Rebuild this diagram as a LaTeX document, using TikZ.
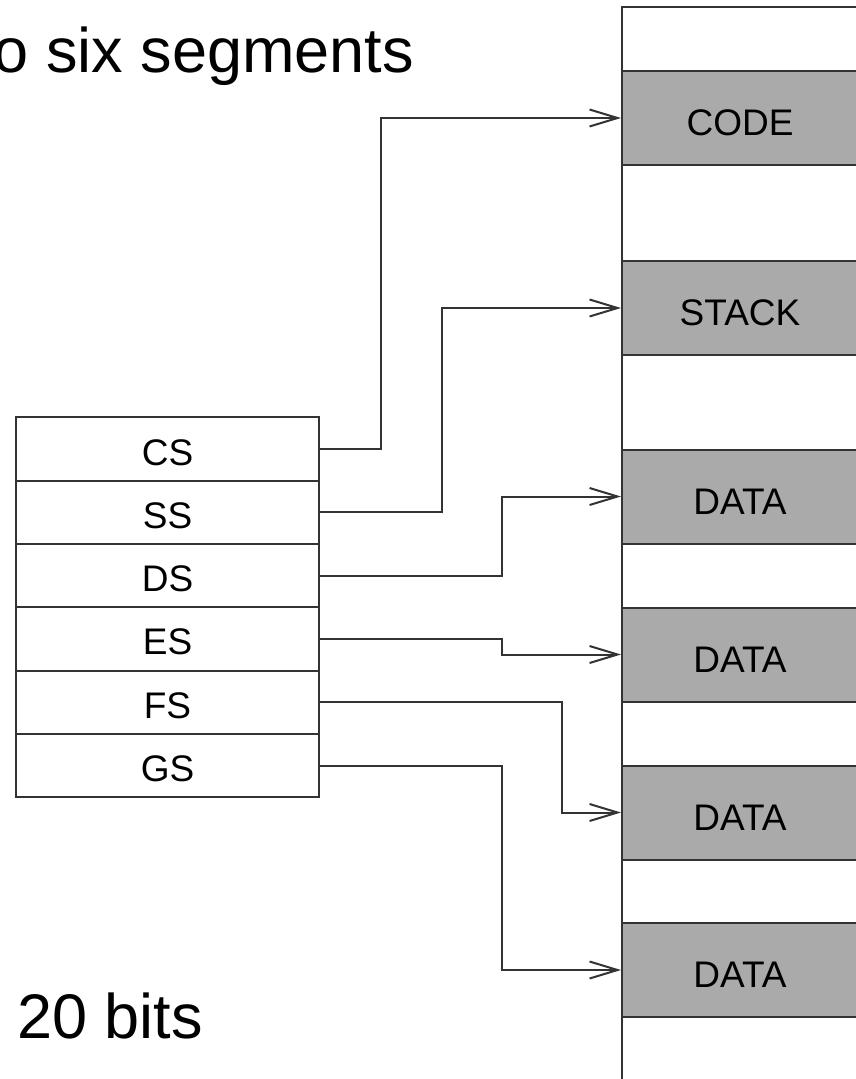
\documentclass[tikz,border=0pt]{standalone}
\usepackage{fontspec}
\setmainfont{Liberation Sans}
\usetikzlibrary{arrows.meta}
\definecolor{segfill}{HTML}{AAAAAA}
\definecolor{ink}{HTML}{333333}
\tikzset{
  reg/.style={draw=ink, line width=2pt, minimum width=303pt, minimum height=63.3pt,
    inner sep=0pt, text height=32pt, text depth=0pt, font=\fontsize{37}{42}\selectfont},
  seg/.style={draw=ink, fill=segfill, line width=2pt, minimum width=236pt,
    minimum height=94pt, inner sep=0pt, text height=35pt, text depth=0pt,
    font=\fontsize{37}{42}\selectfont},
  link/.style={draw=ink, line width=2pt, -{Straight Barb[length=28pt,width=17pt,line width=2pt]}},
  big/.style={inner sep=0pt, font=\fontsize{63}{70}\selectfont}
}
\begin{document}
\begin{tikzpicture}[x=1pt, y=-1pt]
\useasboundingbox (0,0) rectangle (856,1079);
\clip (0,0) rectangle (856,1079);
% memory column
\draw[ink, line width=2pt] (900,7) -- (622,7) -- (622,1090);
\node[seg] (code)  at (740,118)   {CODE};
\node[seg] (stack) at (740,308)   {STACK};
\node[seg] (data1) at (740,496.5) {DATA};
\node[seg] (data2) at (740,654.5) {DATA};
\node[seg] (data3) at (740,812.5) {DATA};
\node[seg] (data4) at (740,970)   {DATA};
% registers
\node[reg] (cs) at (167.5,449)   {CS};
\node[reg] (ss) at (167.5,512.3) {SS};
\node[reg] (ds) at (167.5,575.6) {DS};
\node[reg] (es) at (167.5,638.9) {ES};
\node[reg] (fs) at (167.5,702.2) {FS};
\node[reg] (gs) at (167.5,765.5) {GS};
% connectors
\draw[link] (cs.east) -- ++(61,0)  |- (code.west);
\draw[link] (ss.east) -- ++(122,0) |- (stack.west);
\draw[link] (ds.east) -- ++(182,0) |- (data1.west);
\draw[link] (es.east) -- ++(182,0) |- (data2.west);
\draw[link] (fs.east) -- ++(242,0) |- (data3.west);
\draw[link] (gs.east) -- ++(182,0) |- (data4.west);
% texts
\node[big, anchor=base east] (title) at (414,72) {o six segments};
\node[big, anchor=base west] (bits) at (17,1038) {20 bits};
\end{tikzpicture}
\end{document}
